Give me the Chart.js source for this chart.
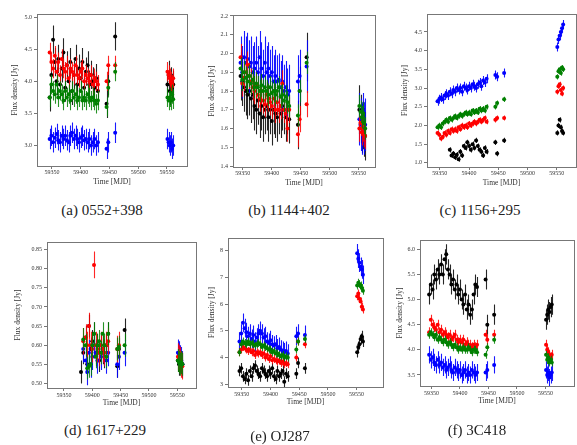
<!DOCTYPE html>
<html lang="en">
<head>
<meta charset="UTF-8" />
<title>Flux density light curves</title>
<script src="https://cdn.jsdelivr.net/npm/chart.js"></script>
<style>
  body { margin: 0; background: #fff; width: 577px; height: 445px; position: relative; overflow: hidden; font-family: "Liberation Serif", serif; }
  .panel { position: absolute; }
  .cap { position: absolute; font-size: 15px; line-height: 16px; color: #222; white-space: nowrap; transform: translateX(-50%); }
</style>
</head>
<body>
<script>
  // observation dates (MJD) for panels a, b, c, e, f
  const mjd = [59346, 59349, 59352, 59355, 59358, 59361, 59364, 59367, 59370, 59373, 59376, 59379, 59382, 59385, 59388,
    59391, 59394, 59397, 59400, 59403, 59406, 59409, 59412, 59415, 59418, 59421, 59424, 59427, 59430,
    59445, 59448, 59460, 59551, 59553, 59555, 59557, 59559, 59561];
  // observation dates (MJD) for panel d
  const mjdD = [59380, 59384, 59388, 59391, 59394, 59397, 59400, 59403, 59406, 59409, 59412, 59415, 59418, 59421, 59425, 59428,
    59444, 59447, 59457, 59551, 59553, 59555, 59557, 59559];
  const xTicks = [59350, 59400, 59450, 59500, 59550];

  // (a) 0552+398
  const aBlack = [3.75, 4.1, 4.65, 4.3, 4.0, 4.35, 3.95, 4.2, 4.45, 3.9, 4.25, 4.0, 4.3, 3.85, 4.1, 4.35, 3.95, 4.2, 4.05, 4.3, 3.9, 4.15, 4.25, 3.95, 4.1, 4.0, 3.9, 4.05, 3.85, 3.65, 4.0, 4.7, 3.95, 4.1, 3.85, 4.0, 3.9, 3.95];
  const aRed = [4.45, 4.3, 4.2, 4.4, 4.15, 4.3, 4.1, 4.35, 4.2, 4.15, 4.25, 4.05, 4.2, 4.15, 4.1, 4.25, 4.1, 4.05, 4.15, 4.2, 4.0, 4.1, 4.05, 4.0, 4.1, 3.95, 4.05, 4.0, 3.95, 4.0, 4.25, 4.25, 4.15, 4.1, 4.05, 4.0, 3.95, 4.05];
  const aGreen = [3.75, 3.95, 3.85, 3.8, 3.95, 3.75, 3.85, 3.8, 3.7, 3.85, 3.75, 3.8, 3.7, 3.85, 3.75, 3.8, 3.7, 3.75, 3.85, 3.7, 3.75, 3.7, 3.8, 3.75, 3.7, 3.75, 3.7, 3.65, 3.7, 3.6, 3.9, 4.15, 3.75, 3.7, 3.75, 3.7, 3.8, 3.72];
  const aBlue = [3.1, 3.15, 3.05, 3.12, 3.18, 3.08, 3.05, 3.15, 3.1, 3.15, 3.08, 3.05, 3.15, 3.2, 3.1, 3.15, 3.1, 3.05, 3.12, 3.15, 3.08, 3.1, 3.05, 3.1, 3.0, 3.05, 3.1, 3.0, 3.05, 2.95, 3.05, 3.2, 3.1, 3.05, 3.0, 3.05, 2.95, 3.0];
  const aErr = [0.22, 0.15, 0.15, 0.16]; // black, red, green, blue
  const aTicks = [3.0, 3.5, 4.0, 4.5, 5.0];

  // (b) 1144+402
  const bBlack = [1.88, 1.85, 1.82, 1.8, 1.78, 1.8, 1.76, 1.78, 1.72, 1.7, 1.75, 1.68, 1.72, 1.66, 1.7, 1.72, 1.66, 1.7, 1.64, 1.7, 1.68, 1.66, 1.7, 1.68, 1.72, 1.7, 1.66, 1.7, 1.65, 1.62, 1.8, 1.98, 1.7, 1.65, 1.6, 1.62, 1.58, 1.56];
  const bRed = [1.98, 1.84, 1.87, 1.9, 1.94, 1.88, 1.85, 1.82, 1.8, 1.83, 1.78, 1.76, 1.8, 1.75, 1.73, 1.78, 1.76, 1.74, 1.72, 1.76, 1.7, 1.74, 1.7, 1.72, 1.84, 1.7, 1.68, 1.6, 1.7, 1.57, 1.65, 1.73, 1.6, 1.63, 1.58, 1.6, 1.57, 1.56];
  const bGreen = [1.92, 1.86, 1.9, 1.87, 1.85, 1.88, 1.84, 1.86, 1.82, 1.84, 1.82, 1.8, 1.83, 1.8, 1.82, 1.8, 1.78, 1.82, 1.79, 1.8, 1.78, 1.8, 1.82, 1.77, 1.78, 1.75, 1.77, 1.74, 1.72, 1.67, 1.8, 1.95, 1.72, 1.69, 1.66, 1.68, 1.63, 1.6];
  const bBlue = [1.95, 1.9, 1.98, 1.95, 1.97, 1.93, 1.95, 1.9, 1.92, 1.95, 1.9, 1.98, 1.92, 1.88, 1.95, 1.9, 1.92, 1.88, 1.9, 1.85, 1.88, 1.85, 1.86, 1.82, 1.85, 1.8, 1.82, 1.78, 1.8, 1.85, 1.88, 1.93, 1.65, 1.62, 1.6, 1.65, 1.6, 1.62];
  const bErr = [0.13, 0.07, 0.06, 0.14];
  const bTicks = [1.4, 1.5, 1.6, 1.7, 1.8, 1.9, 2.0, 2.1, 2.2];

  // (c) 1156+295
  const cBlack = [null, null, null, null, null, null, null, 1.35, 1.2, 1.25, 1.15, 1.22, 1.1, 1.3, 1.2, 1.45, 1.4, 1.55, 1.45, 1.35, 1.5, 1.4, 1.6, 1.45, 1.35, 1.3, 1.2, 1.4, 1.3, 1.55, 1.25, 1.6, 1.8, 2.0, 2.15, 1.95, 1.85, 1.8];
  const cRed = [1.8, 1.75, 1.65, 1.7, 1.8, 1.75, 1.85, 1.8, 1.9, 1.85, 1.9, 1.85, 1.95, 1.9, 2.0, 1.95, 2.0, 1.95, 2.05, 2.0, 2.05, 2.1, 2.05, 2.1, 2.15, 2.1, 2.15, 2.2, 2.1, 2.15, 2.2, 2.2, 2.9, 3.05, 3.1, 2.95, 2.85, 3.0];
  const cGreen = [1.95, 2.0, 1.95, 2.05, 2.1, 2.15, 2.1, 2.2, 2.15, 2.2, 2.25, 2.2, 2.25, 2.3, 2.25, 2.3, 2.35, 2.3, 2.35, 2.3, 2.4, 2.35, 2.4, 2.35, 2.45, 2.4, 2.45, 2.4, 2.5, 2.5, 2.6, 2.7, 3.3, 3.45, 3.5, 3.4, 3.55, 3.5];
  const cBlue = [2.65, 2.7, 2.75, 2.7, 2.8, 2.85, 2.8, 2.9, 2.85, 2.95, 2.9, 3.0, 2.95, 3.0, 2.9, 3.05, 3.0, 2.95, 3.05, 3.0, 3.1, 3.05, 3.0, 3.1, 3.15, 3.05, 3.2, 3.15, 3.25, 3.35, 3.3, 3.4, 4.1, 4.3, 4.4, 4.5, 4.6, 4.7];
  const cErr = [0.07, 0.07, 0.07, 0.12];
  const cTicks = [1.0, 1.5, 2.0, 2.5, 3.0, 3.5, 4.0, 4.5];

  // (d) 1617+229
  const dBlack = [0.53, 0.58, 0.62, 0.55, 0.65, 0.59, 0.61, 0.63, 0.58, 0.6, 0.56, 0.6, 0.58, 0.57, 0.6, 0.63, 0.545, 0.59, 0.64, 0.56, 0.55, 0.56, 0.555, 0.55];
  const dRed = [null, 0.61, 0.62, 0.6, 0.65, 0.6, 0.59, 0.81, 0.6, 0.59, 0.58, 0.6, 0.59, 0.58, 0.6, 0.61, 0.59, 0.6, null, 0.57, 0.565, 0.56, 0.55, 0.545];
  const dGreen = [null, 0.615, 0.6, 0.54, 0.545, 0.55, 0.6, 0.63, 0.57, 0.6, 0.61, 0.58, 0.63, 0.6, 0.57, 0.63, 0.59, 0.595, 0.6, 0.56, 0.555, 0.55, 0.555, 0.55];
  const dBlue = [null, 0.59, 0.56, 0.53, 0.58, 0.55, 0.57, 0.6, 0.58, 0.56, 0.58, 0.57, 0.59, 0.58, 0.56, 0.58, 0.55, 0.57, 0.58, 0.58, 0.575, 0.565, 0.56, 0.55];
  const dErr = [0.03, 0.035, 0.03, 0.035];
  const dTicks = [0.50, 0.55, 0.60, 0.65, 0.70, 0.75, 0.80, 0.85];

  // (e) OJ287
  const eBlack = [3.5, 3.6, 3.3, 3.2, 3.4, 3.15, 3.5, 3.3, 3.6, 3.7, 3.5, 3.4, 3.3, 3.6, 3.5, 3.4, 3.3, 3.5, 3.4, 3.6, 3.3, 3.2, 3.5, 3.3, 3.4, 3.5, 3.1, 3.4, 3.3, 3.4, 3.8, 3.6, 4.2, 4.4, 4.5, 4.7, 4.8, 4.6];
  const eRed = [4.2, 4.3, 4.4, 4.35, 4.3, 4.25, 4.3, 4.2, 4.25, 4.1, 4.2, 4.15, 4.2, 4.1, 4.15, 4.0, 4.1, 3.95, 4.05, 3.9, 3.95, 3.9, 3.85, 3.9, 3.8, 3.85, 3.75, 3.8, 3.75, 4.0, 4.6, 4.5, 6.3, 6.4, 6.2, 6.1, 5.9, 5.8];
  const eGreen = [4.2, 4.5, 4.6, 4.55, 4.5, 4.6, 4.5, 4.55, 4.5, 4.45, 4.5, 4.55, 4.5, 4.4, 4.45, 4.4, 4.35, 4.3, 4.3, 4.2, 4.25, 4.15, 4.15, 4.1, 4.05, 4.1, 4.0, 4.05, 4.0, 4.3, 4.6, 4.7, 6.7, 6.8, 6.75, 6.7, 6.6, 6.5];
  const eBlue = [4.6, 4.9, 5.3, 5.1, 4.95, 4.8, 4.9, 4.7, 4.85, 4.6, 4.75, 4.9, 5.0, 4.9, 4.75, 4.8, 4.6, 4.55, 4.65, 4.5, 4.45, 4.5, 4.35, 4.4, 4.3, 4.25, 4.2, 4.25, 4.15, 4.8, 4.9, 4.85, 7.9, 7.7, 7.55, 7.4, 7.3, 7.1];
  const eErr = [0.2, 0.15, 0.15, 0.35];
  const eTicks = [3, 4, 5, 6, 7, 8];

  // (f) 3C418
  const fBlack = [5.1, 5.3, 5.2, 5.5, 5.4, 5.6, 5.5, 5.7, 5.5, 5.8, 5.9, 5.6, 5.5, 5.3, 5.4, 5.2, 5.3, 5.1, 5.2, 5.0, 4.9, 5.1, 4.8, 4.9, 4.7, 4.8, 5.1, 5.3, 5.25, 5.4, 4.5, 4.7, 4.6, 4.7, 4.8, 4.75, 4.85, 4.9];
  const fRed = [4.35, 4.6, 4.5, 4.45, 4.4, 4.5, 4.35, 4.4, 4.3, 4.35, 4.3, 4.25, 4.3, 4.2, 4.25, 4.3, 4.2, 4.15, 4.2, 4.15, 4.2, 4.1, 4.15, 4.1, 4.1, 4.05, 4.1, 4.05, 4.1, 4.3, 4.2, 4.3, 4.1, 4.0, 3.95, 3.9, 3.85, 3.9];
  const fGreen = [4.3, 4.35, 4.3, 4.25, 4.3, 4.2, 4.25, 4.2, 4.15, 4.2, 4.15, 4.1, 4.15, 4.1, 4.05, 4.1, 4.05, 4.0, 4.05, 4.0, 4.05, 4.0, 4.0, 4.05, 4.0, 3.95, 4.0, 4.0, 3.95, 3.9, 4.05, 4.2, 3.9, 3.8, 3.85, 3.75, 3.8, 3.75];
  const fBlue = [3.9, 3.8, 3.85, 3.75, 3.7, 3.8, 3.7, 3.75, 3.65, 3.7, 3.6, 3.65, 3.7, 3.6, 3.55, 3.65, 3.6, 3.55, 3.6, 3.5, 3.55, 3.6, 3.5, 3.55, 3.5, 3.6, 3.55, 3.5, 3.55, 3.55, 3.6, 3.7, 3.6, 3.5, 3.55, 3.45, 3.5, 3.55];
  const fErr = [0.2, 0.1, 0.08, 0.17];
  const fTicks = [3.5, 4.0, 4.5, 5.0, 5.5, 6.0];

  const FONT = "'Liberation Serif', 'Times New Roman', serif";
  const colors = { black: "#000000", red: "#ff0000", green: "#008000", blue: "#0000ff" };
  const errColors = { black: "rgba(0,0,0,0.85)", red: "rgba(255,0,0,0.85)", green: "rgba(0,128,0,0.85)", blue: "rgba(0,0,255,0.9)" };

  // panel layout: box = plot frame [left, top, right, bottom] in page pixels
  const panels = [
    { caption: "(a) 0552+398", dates: mjd, series: [aBlack, aRed, aGreen, aBlue], err: aErr, yTicks: aTicks, dec: 1,
      box: [37, 14, 187, 166], xMin: 59324, xMax: 59585, yMin: 2.68, yMax: 5.05, yTitleDx: 22, labPad: 0, titleDy: 16, cap: [102, 210] },
    { caption: "(b) 1144+402", dates: mjd, series: [bBlack, bRed, bGreen, bBlue], err: bErr, yTicks: bTicks, dec: 1,
      box: [233, 15, 375, 167], xMin: 59333, xMax: 59578, yMin: 1.395, yMax: 2.205, yTitleDx: 21, labPad: 0, titleDy: 16, cap: [289, 210] },
    { caption: "(c) 1156+295", dates: mjd, series: [cBlack, cRed, cGreen, cBlue], err: cErr, yTicks: cTicks, dec: 1,
      box: [427, 14, 576, 167], xMin: 59328, xMax: 59583, yMin: 0.89, yMax: 4.98, yTitleDx: 22, labPad: 0, titleDy: 16, cap: [480, 210] },
    { caption: "(d) 1617+229", dates: mjdD, series: [dBlack, dRed, dGreen, dBlue], err: dErr, yTicks: dTicks, dec: 2,
      box: [47, 242, 196, 388], xMin: 59320, xMax: 59583, yMin: 0.488, yMax: 0.87, yTitleDx: 29, labPad: 1, titleDy: 15, cap: [105, 430] },
    { caption: "(e) OJ287", dates: mjd, series: [eBlack, eRed, eGreen, eBlue], err: eErr, yTicks: eTicks, dec: 0,
      box: [228, 238, 383, 387], xMin: 59326, xMax: 59596, yMin: 2.9, yMax: 8.475, yTitleDx: 16, labPad: 1, titleDy: 15, cap: [280, 436] },
    { caption: "(f) 3C418", dates: mjd, series: [fBlack, fRed, fGreen, fBlue], err: fErr, yTicks: fTicks, dec: 1,
      box: [420, 240, 574, 386], xMin: 59330, xMax: 59600, yMin: 3.28, yMax: 6.185, yTitleDx: 20, labPad: 1, titleDy: 15, cap: [477, 430] }
  ];

  // vertical error bars, drawn just before each dataset's markers
  const errorBars = {
    id: "errorBars",
    beforeDatasetDraw(chart, args) {
      const ds = chart.data.datasets[args.index];
      const xs = chart.scales.x, ys = chart.scales.y, a = chart.chartArea;
      const ctx = chart.ctx;
      ctx.save();
      ctx.beginPath();
      ctx.rect(a.left, a.top, a.right - a.left, a.bottom - a.top);
      ctx.clip();
      ctx.strokeStyle = ds.errColor;
      ctx.lineWidth = 1.1;
      ctx.beginPath();
      ds.data.forEach(pt => {
        const px = Math.round(xs.getPixelForValue(pt.x)) + 0.5;
        ctx.moveTo(px, ys.getPixelForValue(pt.y - ds.err));
        ctx.lineTo(px, ys.getPixelForValue(pt.y + ds.err));
      });
      ctx.stroke();
      ctx.restore();
    }
  };

  const frame = {
    id: "frame",
    afterDraw(chart) {
      const a = chart.chartArea, ctx = chart.ctx;
      ctx.save();
      ctx.strokeStyle = "#777";
      ctx.lineWidth = 1;
      ctx.strokeRect(Math.round(a.left) + 0.5, Math.round(a.top) + 0.5, Math.round(a.right - a.left), Math.round(a.bottom - a.top));
      ctx.restore();
    }
  };

  function makePanel(p) {
    const yw = 40, padTop = 8, padRight = 4, xh = 26;
    const [l, t, r, b] = p.box;
    const w = r - l + yw + padRight, h = b - t + padTop + xh;
    const div = document.createElement("div");
    div.className = "panel";
    div.style.left = (l - yw) + "px";
    div.style.top = (t - padTop) + "px";
    div.style.width = w + "px";
    div.style.height = h + "px";
    const cv = document.createElement("canvas");
    cv.width = w; cv.height = h;
    cv.style.width = w + "px"; cv.style.height = h + "px";
    div.appendChild(cv);
    document.body.appendChild(div);

    const cap = document.createElement("div");
    cap.className = "cap";
    cap.textContent = p.caption;
    cap.style.left = p.cap[0] + "px";
    cap.style.top = (p.cap[1] - 8) + "px";
    document.body.appendChild(cap);

    const names = ["black", "red", "green", "blue"];
    const toPoints = vals => vals.map((v, i) => ({ x: p.dates[i], y: v })).filter(pt => pt.y !== null);
    // first dataset is drawn on top
    const drawOrder = [2, 1, 3, 0];
    const datasets = drawOrder.map(k => ({
      label: names[k],
      data: toPoints(p.series[k]),
      err: p.err[k],
      errColor: errColors[names[k]],
      backgroundColor: colors[names[k]],
      borderColor: colors[names[k]],
      pointRadius: 2,
      pointBorderWidth: 0,
      pointHoverRadius: 2
    }));

    const lh = 7.5 * 1.2;
    new Chart(cv, {
      type: "scatter",
      data: { datasets },
      options: {
        responsive: false,
        animation: false,
        devicePixelRatio: 1,
        layout: { padding: { top: padTop, right: padRight, left: 0, bottom: 0 } },
        plugins: { legend: { display: false }, tooltip: { enabled: false } },
        scales: {
          x: {
            type: "linear", min: p.xMin, max: p.xMax,
            afterFit: s => { s.height = xh; },
            afterBuildTicks: s => { s.ticks = xTicks.map(v => ({ value: v })); },
            ticks: { callback: v => String(v), font: { family: FONT, size: 6 }, color: "#333", padding: p.labPad, maxRotation: 0, autoSkip: false },
            grid: { drawOnChartArea: false, tickLength: 3, color: "#777" },
            border: { display: false },
            title: { display: true, text: "Time [MJD]", font: { family: FONT, size: 7.5 }, color: "#333",
              padding: { top: 0, bottom: xh - p.titleDy - lh / 2 } }
          },
          y: {
            type: "linear", min: p.yMin, max: p.yMax,
            afterFit: s => { s.width = yw; },
            afterBuildTicks: s => { s.ticks = p.yTicks.map(v => ({ value: v })); },
            ticks: { callback: v => v.toFixed(p.dec), font: { family: FONT, size: 6 }, color: "#333", padding: 2, autoSkip: false },
            grid: { drawOnChartArea: false, tickLength: 3, color: "#777" },
            border: { display: false },
            title: { display: true, text: "Flux density [Jy]", font: { family: FONT, size: 7.5 }, color: "#333",
              padding: { top: yw - p.yTitleDx - lh / 2, bottom: 0 } }
          }
        }
      },
      plugins: [errorBars, frame]
    });
  }

  panels.forEach(makePanel);
</script>
</body>
</html>
